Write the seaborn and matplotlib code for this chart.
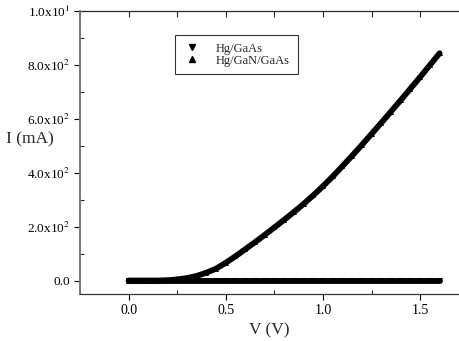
import pandas as pd
import numpy as np
import matplotlib
matplotlib.use("Agg")
import matplotlib.pyplot as plt
import seaborn as sns
from matplotlib.lines import Line2D
from matplotlib.ticker import MultipleLocator, FixedLocator, NullFormatter

# ==============================================================================
# 1. DATA (V in volts, I in mA)
# ==============================================================================
voltage = [0.00, 0.05, 0.10, 0.15, 0.20, 0.25, 0.30, 0.35, 0.40, 0.45, 0.50,
           0.55, 0.60, 0.65, 0.70, 0.75, 0.80, 0.85, 0.90, 0.95, 1.00,
           1.05, 1.10, 1.15, 1.20, 1.25, 1.30, 1.35, 1.40, 1.45, 1.50,
           1.55, 1.60]

current_hg_gaas = [0.0, 0.0, 0.0, 0.0, 0.0, 0.0, 0.0, 0.0, 0.0, 0.0, 0.0,
                   0.0, 0.0, 0.0, 0.0, 0.0, 0.0, 0.0, 0.0, 0.0, 0.0,
                   0.0, 0.0, 0.0, 0.0, 0.0, 0.0, 0.0, 0.0, 0.0, 0.0,
                   0.0, 0.0]

current_hg_gan_gaas = [0.0000, 0.0000, 0.0000, 0.0000, 0.0001, 0.0004, 0.0009,
                       0.0017, 0.0029, 0.0044, 0.0066, 0.0090, 0.0116, 0.0142,
                       0.0169, 0.0197, 0.0225, 0.0254, 0.0284, 0.0316, 0.0350,
                       0.0386, 0.0424, 0.0463, 0.0503, 0.0544, 0.0585, 0.0627,
                       0.0669, 0.0712, 0.0755, 0.0799, 0.0843]

series_names = ["Hg/GaAs", "Hg/GaN/GaAs"]

y_ticks = [0.0, 0.02, 0.04, 0.06, 0.08, 0.10]
y_tick_labels = ["0.0", "2.0x10$^{2}$", "4.0x10$^{2}$", "6.0x10$^{2}$",
                 "8.0x10$^{2}$", "1.0x10$^{1}$"]
x_ticks = [0.0, 0.5, 1.0, 1.5]
x_tick_labels = ["0.0", "0.5", "1.0", "1.5"]

df = pd.DataFrame({
    "V": voltage * 2,
    "I": current_hg_gaas + current_hg_gan_gaas,
    "sample": [series_names[0]] * len(voltage) + [series_names[1]] * len(voltage),
})

# ==============================================================================
# 2. FIGURE
# ==============================================================================
sns.set_style("ticks")
plt.rcParams["font.family"] = ["Liberation Serif", "DejaVu Serif"]
plt.rcParams["mathtext.fontset"] = "stix"

fig = plt.figure(figsize=(4.59, 3.41), dpi=100)
ax = fig.add_axes([0.1743, 0.1378, 0.8257, 0.8299])

markers = {"Hg/GaAs": "v", "Hg/GaN/GaAs": "^"}
for name in series_names:
    sub = df[df["sample"] == name]
    sns.lineplot(data=sub, x="V", y="I", ax=ax, color="black", linewidth=4.2,
                 marker=markers[name], markersize=4, markeredgewidth=0,
                 sort=False, legend=False)

ax.set_xlim(-0.25, 1.70)
ax.set_ylim(-0.005, 0.1)

ax.xaxis.set_major_locator(FixedLocator(x_ticks))
ax.set_xticklabels(x_tick_labels, fontsize=10)
ax.xaxis.set_minor_locator(MultipleLocator(0.25))
ax.yaxis.set_major_locator(FixedLocator(y_ticks))
ax.set_yticklabels(y_tick_labels, fontsize=9.5)
ax.yaxis.set_minor_locator(MultipleLocator(0.01))

ax.tick_params(which="major", direction="out", length=4, width=0.8, pad=3,
               colors="black")
ax.tick_params(which="minor", direction="in", length=3, width=0.8)
ax.tick_params(axis="x", which="both", top=False)

# top axis: ticks pointing inward, no labels
top = ax.secondary_xaxis("top")
top.xaxis.set_major_locator(FixedLocator(x_ticks))
top.xaxis.set_minor_locator(MultipleLocator(0.25))
top.xaxis.set_major_formatter(NullFormatter())
top.tick_params(which="both", direction="in", length=4, width=0.8)
top.spines["top"].set_linewidth(0.9)
ax.spines["top"].set_visible(False)

ax.spines["right"].set_visible(False)
ax.spines["left"].set_color("#777777")
ax.spines["left"].set_linewidth(1.4)
ax.spines["bottom"].set_color("#333333")
ax.spines["bottom"].set_linewidth(0.9)

ax.set_xlabel("V (V)", fontsize=12.5, labelpad=4)
ax.set_ylabel("")
fig.text(0.066, 0.59, "I (mA)", fontsize=12.5, ha="center", va="center")

handles = [Line2D([], [], linestyle="none", marker=markers[n], color="black",
                  markersize=4) for n in series_names]
leg = ax.legend(handles, series_names, loc="upper left",
                bbox_to_anchor=(0.25, 0.915), fontsize=9, frameon=True,
                fancybox=False, handlelength=1.5, handletextpad=1.2,
                borderpad=0.6, labelspacing=0.0, borderaxespad=0)
leg.get_frame().set_edgecolor("black")
leg.get_frame().set_linewidth(0.8)

plt.savefig("out.png", dpi=100)
